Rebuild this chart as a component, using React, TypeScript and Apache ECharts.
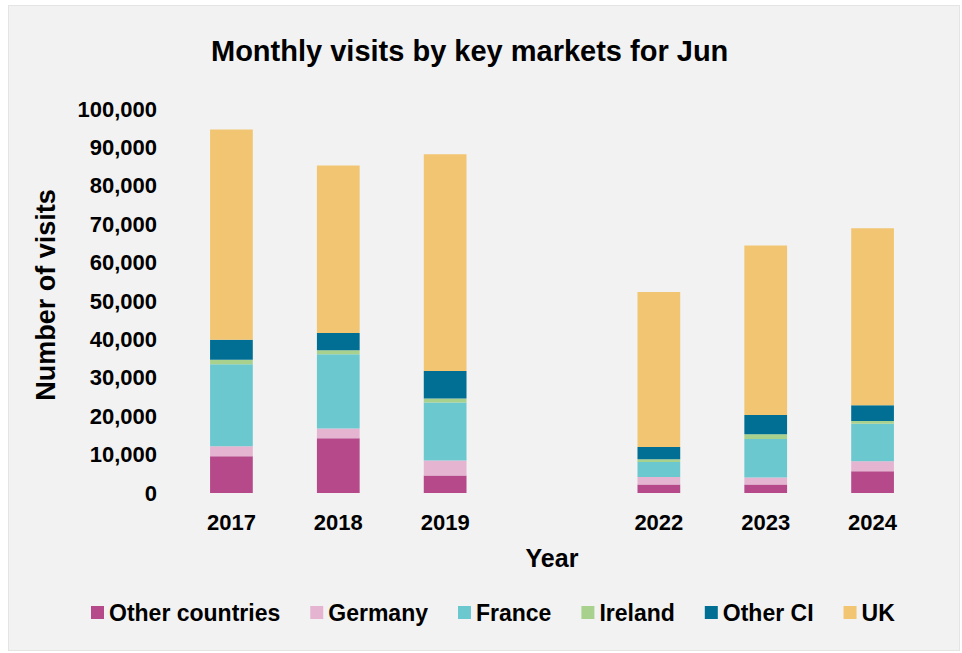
import React, { useEffect, useRef } from "react";
import * as echarts from "echarts";

const years = ["2017", "2018", "2019", "", "2022", "2023", "2024"];
const otherCountries = [9550, 14250, 4550, null, 2200, 2200, 5650];
const germany = [2600, 2550, 3900, null, 1980, 1820, 2600];
const france = [21350, 19350, 15100, null, 3900, 10050, 9800];
const ireland = [1200, 1050, 1050, null, 700, 1230, 700];
const otherCI = [5200, 4450, 7200, null, 3200, 5000, 4100];
const uk = [54750, 43650, 56400, null, 40350, 44150, 46100];

const seriesNames = ["Other countries", "Germany", "France", "Ireland", "Other CI", "UK"];
const seriesData = [otherCountries, germany, france, ireland, otherCI, uk];
const seriesColors = ["#b5498a", "#e5b4d1", "#6cc8cf", "#a9d18e", "#006f93", "#f2c572"];

const FONT = "'Liberation Sans', Arial, sans-serif";

export default function App() {
  const ref = useRef<HTMLDivElement>(null);
  useEffect(() => {
    if (!ref.current) return;
    const chart = echarts.init(ref.current, undefined, { renderer: "svg" });
    chart.setOption({
      animation: false,
      backgroundColor: "transparent",
      title: {
        text: "Monthly visits by key markets for Jun",
        left: 206,
        top: 31,
        textStyle: { fontFamily: FONT, fontSize: 29, fontWeight: "bold", color: "#000" },
      },
      legend: {
        bottom: 24,
        left: 86,
        icon: "rect",
        itemWidth: 13,
        itemHeight: 13,
        itemGap: 30,
        data: seriesNames,
        textStyle: { fontFamily: FONT, fontSize: 23, fontWeight: "bold", color: "#000" },
      },
      grid: { left: 178, right: 36, top: 109, bottom: 160 },
      xAxis: {
        type: "category",
        data: years,
        name: "Year",
        nameLocation: "middle",
        nameGap: 52,
        nameTextStyle: { fontFamily: FONT, fontSize: 25, fontWeight: "bold", color: "#000" },
        axisLine: { show: false },
        axisTick: { show: false },
        axisLabel: { fontFamily: FONT, fontSize: 22, fontWeight: "bold", color: "#000", margin: 18 },
      },
      yAxis: {
        type: "value",
        min: 0,
        max: 100000,
        interval: 10000,
        name: "Number of visits",
        nameLocation: "middle",
        nameGap: 119,
        nameTextStyle: {
          fontFamily: FONT,
          fontSize: 27,
          fontWeight: "bold",
          color: "#000",
          padding: [0, 0, 0, 12],
        },
        axisLine: { show: false },
        axisTick: { show: false },
        splitLine: { show: false },
        axisLabel: {
          fontFamily: FONT,
          fontSize: 22,
          fontWeight: "bold",
          color: "#000",
          margin: 21,
          formatter: (v: number) => v.toLocaleString("en-US"),
        },
      },
      series: seriesNames.map((name, i) => ({
        name,
        type: "bar",
        stack: "total",
        barWidth: "40%",
        data: seriesData[i],
        itemStyle: { color: seriesColors[i] },
      })),
    });
    return () => chart.dispose();
  }, []);
  return (
    <div
      style={{
        position: "fixed",
        left: 0,
        top: 0,
        width: 962,
        height: 653,
        background: "#ffffff",
      }}
    >
      <div
        style={{
          position: "absolute",
          left: 8,
          top: 5,
          width: 952,
          height: 646,
          boxSizing: "border-box",
          border: "1px solid #e4e4e4",
          background: "#f2f2f2",
        }}
      />
      <div ref={ref} style={{ position: "absolute", left: 0, top: 0, width: 962, height: 653 }} />
    </div>
  );
}
